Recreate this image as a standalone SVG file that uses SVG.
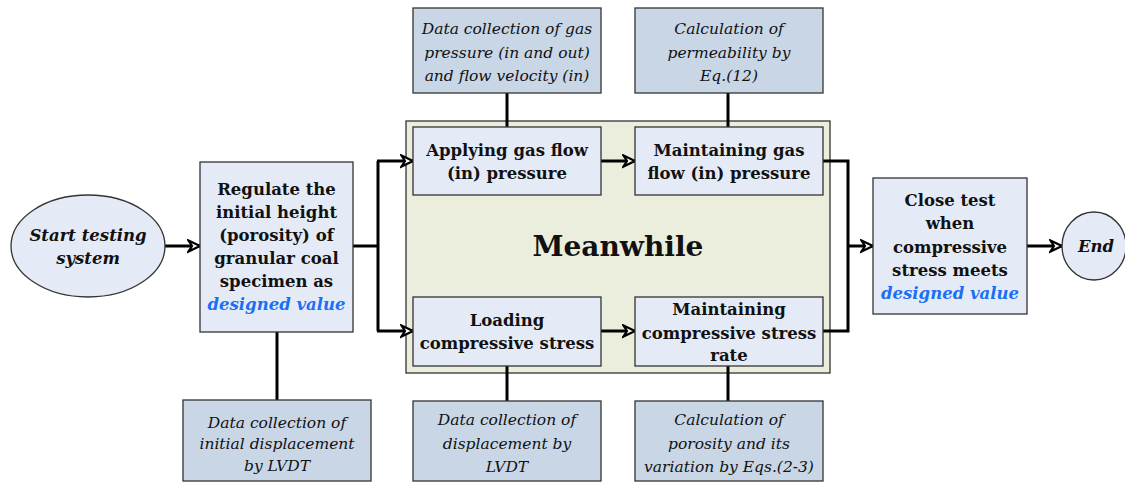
<svg xmlns="http://www.w3.org/2000/svg" width="1125" height="482" viewBox="0 0 1125 482">
<defs>
<marker id="arr" markerUnits="userSpaceOnUse" markerWidth="16" markerHeight="16" refX="13" refY="7" orient="auto">
<path d="M1.5,1.5 L13,7 L1.5,12.5 L5,7 Z" fill="#fff" stroke="#000" stroke-width="2.2" stroke-linejoin="miter"/>
</marker>
<style>
.box{fill:#e5ebf6;stroke:#333;stroke-width:1.3}
.data{fill:#c9d6e6;stroke:#333;stroke-width:1.3}
.b{font-family:"DejaVu Serif","Liberation Serif",serif;font-weight:bold;font-size:16.5px;fill:#111;text-anchor:middle}
.i{font-family:"DejaVu Serif","Liberation Serif",serif;font-style:italic;font-size:15.5px;fill:#111;text-anchor:middle}
.bi{font-family:"DejaVu Serif","Liberation Serif",serif;font-style:italic;font-weight:bold;font-size:16.5px;fill:#111;text-anchor:middle}
.blue{fill:#1a6ff5}
.ln{fill:none;stroke:#000;stroke-width:3}
</style>
</defs>
<g id="meanwhile">
<rect x="406" y="121" width="424" height="252" fill="#ebeedc" stroke="#333" stroke-width="1.3"/>
<text x="618" y="256" style="font-family:'DejaVu Serif','Liberation Serif',serif;font-weight:bold;font-size:28px;fill:#111;text-anchor:middle">Meanwhile</text>
</g>
<g id="connectors">
<line class="ln" x1="165" y1="246" x2="200" y2="246" marker-end="url(#arr)"/>
<line class="ln" x1="353" y1="246" x2="378" y2="246"/>
<path class="ln" d="M378,161 V331"/>
<line class="ln" x1="377" y1="161" x2="413" y2="161" marker-end="url(#arr)"/>
<line class="ln" x1="377" y1="331" x2="413" y2="331" marker-end="url(#arr)"/>
<line class="ln" x1="601" y1="161" x2="635" y2="161" marker-end="url(#arr)"/>
<line class="ln" x1="601" y1="331" x2="635" y2="331" marker-end="url(#arr)"/>
<path class="ln" d="M823,161 H848 V331 H823"/>
<line class="ln" x1="848" y1="246" x2="873" y2="246" marker-end="url(#arr)"/>
<line class="ln" x1="1027" y1="246" x2="1062" y2="246" marker-end="url(#arr)"/>
<line class="ln" x1="507" y1="93" x2="507" y2="127"/>
<line class="ln" x1="728" y1="93" x2="728" y2="127"/>
<line class="ln" x1="507" y1="366" x2="507" y2="401"/>
<line class="ln" x1="728" y1="366" x2="728" y2="401"/>
<line class="ln" x1="277" y1="332" x2="277" y2="400"/>
</g>
<g id="start">
<ellipse cx="88" cy="246" rx="77" ry="51" fill="#e5ebf6" stroke="#333" stroke-width="1.3"/>
<text class="bi" x="88" y="241">Start testing</text>
<text class="bi" x="88" y="264">system</text>
</g>
<g id="regulate">
<rect class="box" x="200" y="162" width="153" height="170"/>
<text class="b" x="276.5" y="195">Regulate the</text>
<text class="b" x="276.5" y="218">initial height</text>
<text class="b" x="276.5" y="241">(porosity) of</text>
<text class="b" x="276.5" y="264">granular coal</text>
<text class="b" x="276.5" y="287">specimen as</text>
<text class="bi blue" x="276.5" y="310">designed value</text>
</g>
<g id="applying">
<rect class="box" x="413" y="127" width="188" height="68"/>
<text class="b" x="507" y="156">Applying gas flow</text>
<text class="b" x="507" y="179">(in) pressure</text>
</g>
<g id="maintaining-gas">
<rect class="box" x="635" y="127" width="188" height="68"/>
<text class="b" x="729" y="156">Maintaining gas</text>
<text class="b" x="729" y="179">flow (in) pressure</text>
</g>
<g id="loading">
<rect class="box" x="413" y="297" width="188" height="69"/>
<text class="b" x="507" y="326">Loading</text>
<text class="b" x="507" y="349">compressive stress</text>
</g>
<g id="maintaining-stress">
<rect class="box" x="635" y="297" width="188" height="69"/>
<text class="b" x="729" y="315">Maintaining</text>
<text class="b" x="729" y="339">compressive stress</text>
<text class="b" x="729" y="361">rate</text>
</g>
<g id="data-gas">
<rect class="data" x="413" y="8" width="188" height="85"/>
<text class="i" x="507" y="34">Data collection of gas</text>
<text class="i" x="507" y="58">pressure (in and out)</text>
<text class="i" x="507" y="81">and flow velocity (in)</text>
</g>
<g id="calc-perm">
<rect class="data" x="635" y="8" width="188" height="85"/>
<text class="i" x="729" y="34">Calculation of</text>
<text class="i" x="729" y="58">permeability by</text>
<text class="i" x="729" y="81">Eq.(12)</text>
</g>
<g id="data-init">
<rect class="data" x="183" y="400" width="188" height="81"/>
<text class="i" x="277" y="428">Data collection of</text>
<text class="i" x="277" y="449">initial displacement</text>
<text class="i" x="277" y="471">by LVDT</text>
</g>
<g id="data-disp">
<rect class="data" x="413" y="401" width="188" height="80"/>
<text class="i" x="507" y="425">Data collection of</text>
<text class="i" x="507" y="449">displacement by</text>
<text class="i" x="507" y="472">LVDT</text>
</g>
<g id="calc-por">
<rect class="data" x="635" y="401" width="188" height="80"/>
<text class="i" x="729" y="425">Calculation of</text>
<text class="i" x="729" y="449">porosity and its</text>
<text class="i" x="729" y="472">variation by Eqs.(2-3)</text>
</g>
<g id="close">
<rect class="box" x="873" y="178" width="154" height="136"/>
<text class="b" x="950" y="206">Close test</text>
<text class="b" x="950" y="229">when</text>
<text class="b" x="950" y="253">compressive</text>
<text class="b" x="950" y="276">stress meets</text>
<text class="bi blue" x="950" y="299">designed value</text>
</g>
<g id="end">
<ellipse cx="1094" cy="246" rx="32" ry="34" fill="#e5ebf6" stroke="#333" stroke-width="1.3"/>
<text class="bi" x="1096" y="252">End</text>
</g>
</svg>
